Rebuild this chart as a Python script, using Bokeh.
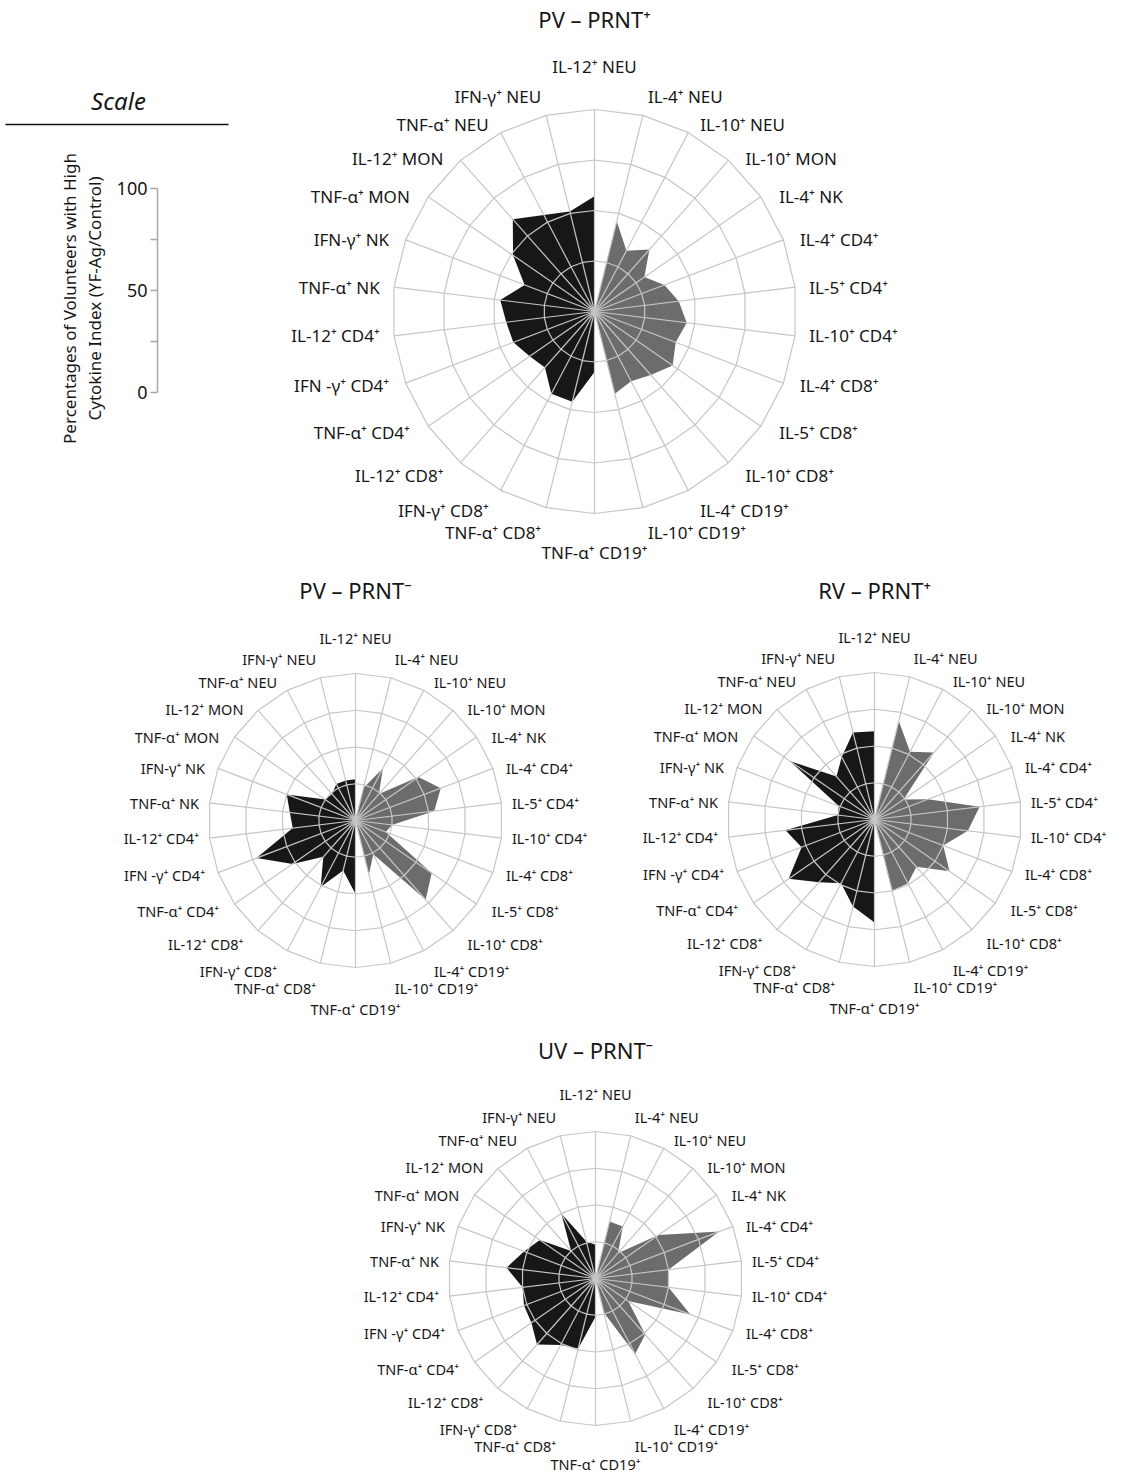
import math
from bokeh.plotting import figure
from bokeh.models import Range1d
from bokeh.embed import file_html
from bokeh.resources import INLINE
from bokeh.core.properties import value

# ---------------- data ----------------
categories = ["IL-12⁺ NEU", "IL-4⁺ NEU", "IL-10⁺ NEU", "IL-10⁺ MON", "IL-4⁺ NK",
              "IL-4⁺ CD4⁺", "IL-5⁺ CD4⁺", "IL-10⁺ CD4⁺", "IL-4⁺ CD8⁺", "IL-5⁺ CD8⁺",
              "IL-10⁺ CD8⁺", "IL-4⁺ CD19⁺", "IL-10⁺ CD19⁺", "TNF-α⁺ CD19⁺", "TNF-α⁺ CD8⁺",
              "IFN-γ⁺ CD8⁺", "IL-12⁺ CD8⁺", "TNF-α⁺ CD4⁺", "IFN -γ⁺ CD4⁺", "IL-12⁺ CD4⁺",
              "TNF-α⁺ NK", "IFN-γ⁺ NK", "TNF-α⁺ MON", "IL-12⁺ MON", "TNF-α⁺ NEU", "IFN-γ⁺ NEU"]

pv_prnt_pos = [57, 46, 34, 41, 30, 37, 42, 46, 43, 47, 42, 39, 42,
               30, 46, 46, 37, 39, 43, 44, 47, 37, 49, 61, 54, 51]
pv_prnt_neg = [28, 23, 40, 24, 52, 62, 54, 25, 22, 63, 72, 26, 38,
               50, 35, 51, 33, 52, 72, 43, 45, 50, 25, 24, 28, 28]
rv_prnt_pos = [60, 69, 52, 61, 24, 39, 72, 64, 50, 62, 43, 49, 50,
               70, 61, 49, 57, 71, 53, 61, 25, 26, 70, 39, 48, 61]
uv_prnt_neg = [23, 40, 40, 23, 52, 90, 50, 50, 69, 27, 51, 58, 24,
               26, 49, 51, 60, 53, 52, 50, 61, 52, 46, 25, 50, 26]

titles = ["PV – PRNT⁺", "PV – PRNT⁻", "RV – PRNT⁺", "UV – PRNT⁻"]
ring_levels = [25, 50, 75, 100]
scale_ticks = [0, 50, 100]
scale_minor = [25, 75]

inflammatory = [c.startswith(("IL-12", "TNF", "IFN")) for c in categories]

# ---------------- figure ----------------
W, H = 1123, 1477
p = figure(width=W, height=H, x_range=Range1d(0, W), y_range=Range1d(0, H),
           output_backend="svg", toolbar_location=None, x_axis_type=None, y_axis_type=None,
           min_border=0, outline_line_color=None)
p.xgrid.visible = False
p.ygrid.visible = False

FONT = value("Noto Sans")
TXT = "#161616"

def Y(img_y):
    return H - img_y

def radar(vals, cx, cy, R, title, title_y, fs, gx, gtop, gbot):
    n = len(categories)
    ang = [2 * math.pi * k / n for k in range(n)]
    cyd = Y(cy)
    sc = R / 203.0
    # filled series
    for flag, color in ((True, "#171717"), (False, "#6c6c6c")):
        xs, ys = [], []
        for k in range(n):
            r = vals[k] / 100.0 * R if inflammatory[k] == flag else 0.0
            xs.append(cx + r * math.sin(ang[k]))
            ys.append(cyd + r * math.cos(ang[k]))
        p.patch(xs, ys, fill_color=color, line_color=None)
    # rings
    rx, ry = [], []
    for lv in ring_levels:
        r = lv / 100.0 * R
        rx.append([cx + r * math.sin(a) for a in ang] + [cx])
        ry.append([cyd + r * math.cos(a) for a in ang] + [cyd + r])
    p.multi_line(rx, ry, line_color="#c6c6c6", line_width=1.2)
    # spokes
    sx = [[cx, cx + R * math.sin(a)] for a in ang]
    sy = [[cyd, cyd + R * math.cos(a)] for a in ang]
    p.multi_line(sx, sy, line_color="#c6c6c6", line_width=1.2)
    # labels
    for side in ("left", "right", "center_top", "center_bottom"):
        lx, ly, lt = [], [], []
        for k in range(n):
            s, c = math.sin(ang[k]), math.cos(ang[k])
            if abs(s) < 0.05:
                sd = "center_top" if c > 0 else "center_bottom"
            else:
                sd = "left" if s > 0 else "right"
            if sd != side:
                continue
            if sd == "center_top":
                x, y = cx, cyd + R + gtop
            elif sd == "center_bottom":
                x, y = cx, cyd - R - gbot
            else:
                diag = 8 * math.sin(2 * ang[k]) ** 2
                x = cx + R * s + gx * sc * s + diag * (1 if s > 0 else -1)
                if c > 0:
                    dy = 24 * c ** 9
                else:
                    dy = -27 * abs(c) ** 2.5
                y = cyd + R * c + dy
            lx.append(x); ly.append(y); lt.append(categories[k])
        if not lt:
            continue
        align = {"left": "left", "right": "right"}.get(side, "center")
        base = {"center_top": "bottom", "center_bottom": "top"}.get(side, "middle")
        p.text(lx, ly, text=lt, text_font=FONT, text_font_size=f"{fs}px",
               text_align=align, text_baseline=base, text_color=TXT)
    p.text([cx], [Y(title_y)], text=[title], text_font=FONT, text_font_size="22px",
           text_align="center", text_baseline="middle", text_color=TXT)

radar(pv_prnt_pos, 594, 311, 202, titles[0], 18, 17, 14, 32, 27)
radar(pv_prnt_neg, 355, 820, 147, titles[1], 589, 14.5, 14, 26, 31)
radar(rv_prnt_pos, 874, 819, 147, titles[2], 589, 14.5, 14, 26, 31)
radar(uv_prnt_neg, 595, 1278, 147, titles[3], 1049, 14.5, 14, 28, 28)

# ---------------- scale legend ----------------
p.text([118], [Y(100)], text=["Scale"], text_font=FONT, text_font_size="24px",
       text_font_style="italic", text_align="center", text_baseline="middle", text_color=TXT)
p.line([5, 228], [Y(124), Y(124)], line_color="#111111", line_width=1.6)

ax_x, y0, y100 = 157, 392, 188
def sy_(v):
    return Y(y0 + (y100 - y0) * v / 100.0)
p.line([ax_x, ax_x], [sy_(0), sy_(100)], line_color="#a8a8a8", line_width=1.5)
allt = scale_ticks + scale_minor
p.segment(x0=[ax_x - 7] * len(allt), y0=[sy_(v) for v in allt],
          x1=[ax_x] * len(allt), y1=[sy_(v) for v in allt], line_color="#a8a8a8", line_width=1.5)
p.text([147] * len(scale_ticks), [sy_(v) for v in scale_ticks], text=[str(v) for v in scale_ticks],
       text_font=FONT, text_font_size="18px", text_align="right", text_baseline="middle",
       text_color=TXT)
p.text([69, 94], [Y(298), Y(298)],
       text=["Percentages of Volunteers with High", "Cytokine Index (YF-Ag/Control)"],
       text_font=FONT, text_font_size="17px", text_align="center", text_baseline="middle",
       angle=math.pi / 2, text_color=TXT)

open("out.html", "w").write(file_html(p, INLINE))
